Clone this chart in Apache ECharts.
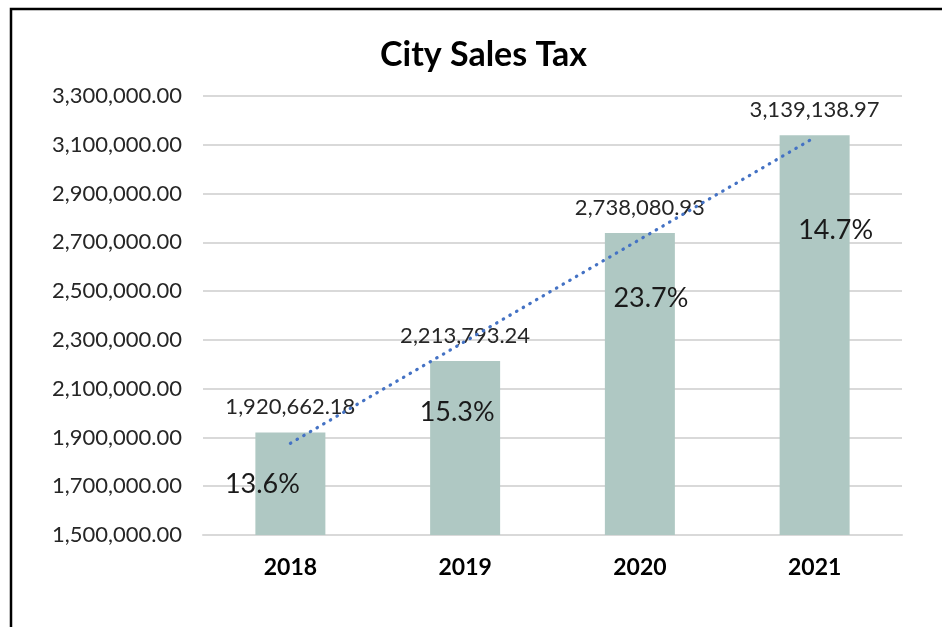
<!DOCTYPE html>
<html>
<head>
    <meta charset="UTF-8">
    <title>City Sales Tax</title>
    <script src="https://cdn.jsdelivr.net/npm/echarts@6/dist/echarts.min.js"></script>
    <style>
        html, body { margin: 0; padding: 0; background: #fff; }
        #chart { width: 942px; height: 627px; }
    </style>
</head>
<body>
    <div id="chart"></div>
    <script>
        // data
        const years = ['2018', '2019', '2020', '2021'];
        const salesTax = [1920662.18, 2213793.24, 2738080.93, 3139138.97];
        const growth = ['13.6%', '15.3%', '23.7%', '14.7%'];
        const trendValues = [1876000, 2294000, 2712000, 3130000];

        // where the growth labels sit, relative to each bar top (px)
        const growthOffsets = [[-28, 38], [-8, 38], [11, 52], [21, 82]];

        const fmt = v => v.toLocaleString('en-US', { minimumFractionDigits: 2, maximumFractionDigits: 2 });
        const font = 'Lato, "Open Sans", sans-serif';

        let chart = echarts.init(document.getElementById('chart'));
        chart.setOption({
            animation: false,
            title: {
                text: 'City Sales Tax',
                left: 375,
                top: 33,
                textStyle: { fontFamily: font, fontSize: 34, fontWeight: 'bold', color: '#000' }
            },
            graphic: [{
                type: 'polyline',
                shape: { points: [[11, 627], [11, 9], [942, 9]] },
                style: { stroke: '#000', lineWidth: 2.5, fill: null }
            }],
            grid: { left: 203, right: 40, top: 96, bottom: 92 },
            xAxis: {
                type: 'category',
                data: years,
                axisLine: { lineStyle: { color: '#d9d9d9', width: 2 } },
                axisTick: { show: false },
                axisLabel: { fontFamily: font, fontSize: 23, fontWeight: 'bold', color: '#000', margin: 21 }
            },
            yAxis: {
                type: 'value',
                min: 1500000,
                max: 3300000,
                interval: 200000,
                axisLine: { show: false },
                axisTick: { show: false },
                splitLine: { lineStyle: { color: '#d9d9d9', width: 2 } },
                axisLabel: { fontFamily: font, fontSize: 22, color: '#262626', margin: 21, formatter: fmt }
            },
            series: [{
                type: 'bar',
                data: salesTax,
                barWidth: 70,
                itemStyle: { color: '#afc8c3' },
                label: {
                    show: true,
                    position: 'top',
                    distance: 14,
                    fontFamily: font,
                    fontSize: 22,
                    color: '#262626',
                    formatter: p => fmt(p.value)
                },
                z: 2
            }, {
                type: 'bar',
                barGap: '-100%',
                barWidth: 70,
                itemStyle: { color: 'transparent' },
                data: salesTax.map((v, i) => ({
                    value: v,
                    label: { offset: growthOffsets[i] }
                })),
                label: {
                    show: true,
                    position: 'insideTop',
                    distance: 0,
                    fontFamily: font,
                    fontSize: 27,
                    color: '#1a1a1a',
                    formatter: p => growth[p.dataIndex]
                },
                z: 4
            }, {
                type: 'line',
                data: trendValues,
                symbol: 'none',
                lineStyle: { color: '#4472c4', width: 3.2, type: [0.5, 7.2], cap: 'round' },
                z: 3
            }]
        });
    </script>
</body>
</html>
